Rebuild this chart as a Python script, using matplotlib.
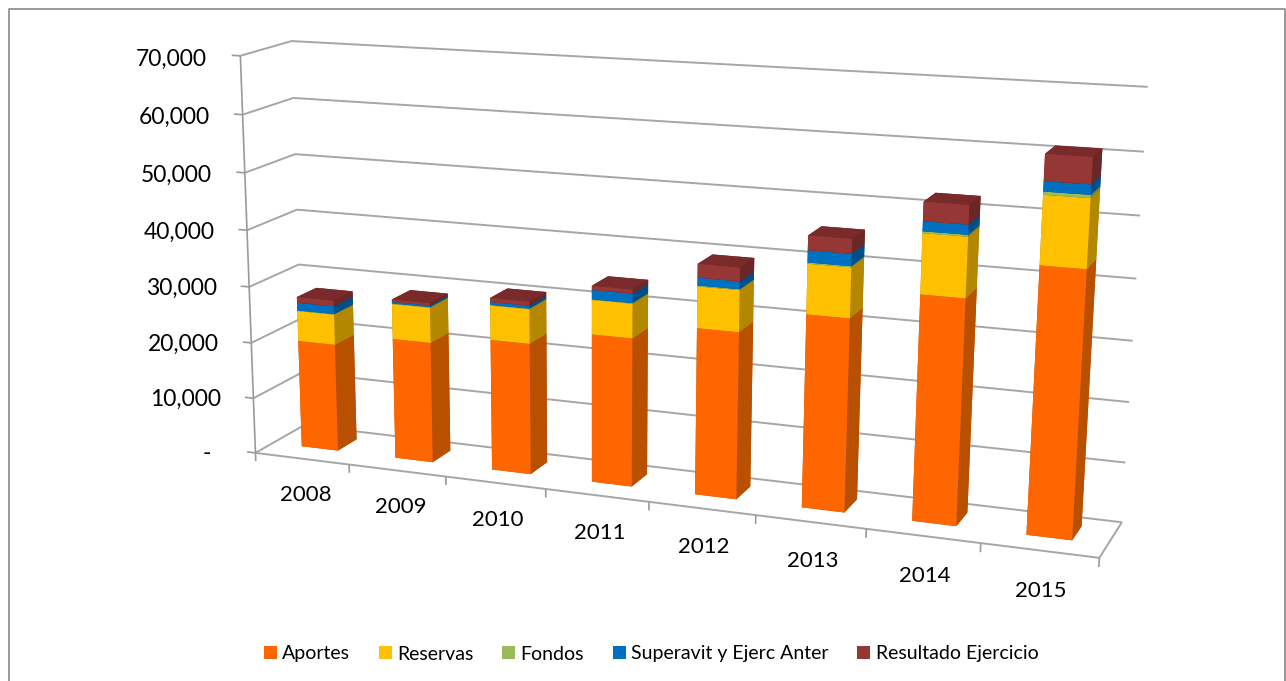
import numpy as np
import matplotlib
matplotlib.use("Agg")
import matplotlib.pyplot as plt
from matplotlib.patches import Patch
from matplotlib.lines import Line2D
from mpl_toolkits.mplot3d.art3d import Line3DCollection

plt.rcParams['font.family'] = ['Lato', 'DejaVu Sans']

years = ['2008', '2009', '2010', '2011', '2012', '2013', '2014', '2015']
aportes = [19300, 21400, 23000, 25700, 28500, 32500, 37400, 43600]
reservas = [5400, 6200, 6000, 5900, 7000, 8300, 9800, 11000]
fondos = [100, 100, 100, 100, 150, 200, 300, 500]
superavit = [1400, 300, 500, 1600, 1300, 2000, 1600, 1600]
resultado = [1000, 400, 700, 700, 2300, 2400, 3100, 4200]
series_names = ['Aportes', 'Reservas', 'Fondos', 'Superavit y Ejerc Anter', 'Resultado Ejercicio']
series_values = [aportes, reservas, fondos, superavit, resultado]
series_colors = ['#FF6600', '#FFC000', '#9BBB59', '#0070C0', '#953735']
side_colors = ['#B85000', '#B38700', '#6E8540', '#004F88', '#6A2726']
top_colors = ['#CC5200', '#CC9A00', '#7C9647', '#005A99', '#7A2A2A']
y_ticks = [0, 10000, 20000, 30000, 40000, 50000, 60000, 70000]
y_labels = ['-  ', '10,000', '20,000', '30,000', '40,000', '50,000', '60,000', '70,000']

# camera calibration: (category, depth, level/10000) -> reference pixel
calib = [
    (0, 0, 7, 236, 57), (0, 0, 6, 240, 115), (0, 0, 5, 243, 173), (0, 0, 4, 247, 230),
    (0, 0, 3, 250, 287), (0, 0, 2, 253, 342), (0, 0, 1, 256, 397), (0, 0, 0, 258, 452),
    (0, 1, 7, 295, 41), (0, 1, 6, 296, 98), (0, 1, 5, 297, 153), (0, 1, 4, 298, 209),
    (0, 1, 3, 298, 264), (0, 1, 2, 299, 320), (0, 1, 1, 300, 373), (0, 1, 0, 300, 427),
    (8, 1, 7, 1147, 87), (8, 1, 6, 1145, 151), (8, 1, 5, 1139, 217), (8, 1, 4, 1136, 279),
    (8, 1, 3, 1133, 340), (8, 1, 2, 1128, 401), (8, 1, 1, 1126, 461), (8, 1, 0, 1122, 518),
    (1, 0, 0, 351, 463), (2, 0, 0, 447, 477), (3, 0, 0, 546, 490), (4, 0, 0, 648, 503),
    (5, 0, 0, 755, 515), (6, 0, 0, 866, 530), (7, 0, 0, 982, 545), (8, 0, 0, 1100, 561),
]
rows, rhs = [], []
for X, Y, Z, u, v in calib:
    wt = 2.0 if X == 0 else 1.0
    rows.append([wt * c for c in [X, Y, Z, 1, 0, 0, 0, 0, -u * X, -u * Y, -u * Z]])
    rhs.append(wt * u)
    rows.append([wt * c for c in [0, 0, 0, 0, X, Y, Z, 1, -v * X, -v * Y, -v * Z]])
    rhs.append(wt * v)
p = np.linalg.lstsq(np.array(rows, float), np.array(rhs, float), rcond=None)[0]
H = np.array([p[:4], p[4:8], [p[8], p[9], p[10], 1.0]])
H[:, 2] /= 10000.0

W, HT = 1286, 681
fig = plt.figure(figsize=(W / 100, HT / 100), dpi=100)
ax = fig.add_axes([0, 0, 1, 1], projection='3d', computed_zorder=False)
ax.apply_aspect = lambda position=None: None
ax.set_position([0, 0, 1, 1])
ax.set_axis_off()


def get_proj():
    A = np.linalg.inv(ax.transData.get_affine().get_matrix())
    T = np.array([[1, 0, 0], [0, -1, HT], [0, 0, 1.0]])
    R = A @ T @ H
    depth = np.array([-0.2, 1.0, -0.2 / 10000.0, 5.0])
    return np.array([R[0], R[1], depth, R[2]])


ax.get_proj = get_proj


def to_fig(X, Y, Z):
    u, v, w = H @ np.array([X, Y, Z, 1.0])
    return u / w / W, 1 - v / w / HT


grid = '#A6A6A6'
axis_col = '#9A9A9A'
n = len(years)
top = max(y_ticks)
grid_segs = []
axis_segs = []
for t in y_ticks:
    grid_segs.append([(0, 0, t), (0, 1, t), (n, 1, t)])
    axis_segs.append([(-0.09, 0, t), (0, 0, t)])
axis_segs.append([(0, 0, 0), (0, 0, top)])
grid_segs.append([(0, 0, 0), (n, 0, 0), (n, 1, 0)])
for i in range(n + 1):
    axis_segs.append([(i, 0, 0), (i, 0, -1500)])
ax.add_collection3d(Line3DCollection([np.array(s, float) for s in grid_segs], colors=grid,
                                     linewidths=1.4, zorder=1), autolim=False)
ax.add_collection3d(Line3DCollection([np.array(s, float) for s in axis_segs], colors=axis_col,
                                     linewidths=1.2, zorder=1), autolim=False)

for t, lab in zip(y_ticks, y_labels):
    fx, fy = to_fig(-0.35, 0, t - 900)
    fig.text(fx, fy, lab, ha='right', va='center', fontsize=16.5, color='black')
for i, yr in enumerate(years):
    fx, fy = to_fig(i + 0.525, 0, -6600)
    fig.text(fx, fy, yr, ha='center', va='center', fontsize=16, color='black')

bar_x, bar_w = 0.31, 0.39
bar_y, bar_d = 0.36, 0.40
for i in range(n):
    base = 0
    for k, vals in enumerate(series_values):
        c, s, tp = series_colors[k], side_colors[k], top_colors[k]
        ax.bar3d([i + bar_x], [bar_y], [base], bar_w, bar_d, vals[i],
                 color=[s, tp, c, s, s, s], shade=False, linewidth=0, zorder=5 + i)
        base += vals[i]

handles = [Patch(facecolor=c, edgecolor='none', label=nm) for c, nm in zip(series_colors, series_names)]
fig.legend(handles=handles, ncol=5, frameon=False, loc='center',
           bbox_to_anchor=(651 / W, 1 - 654 / HT), fontsize=14, handlelength=0.67,
           handleheight=0.67, handletextpad=0.28, columnspacing=1.47, borderpad=0)

border = '#999999'
fig.add_artist(Line2D([9 / W, 9 / W, 1285 / W, 1285 / W], [0, 1 - 8.5 / HT, 1 - 8.5 / HT, 0],
                      color=border, lw=1.4, transform=fig.transFigure))

fig.savefig('out.png', dpi=100, facecolor='white')
